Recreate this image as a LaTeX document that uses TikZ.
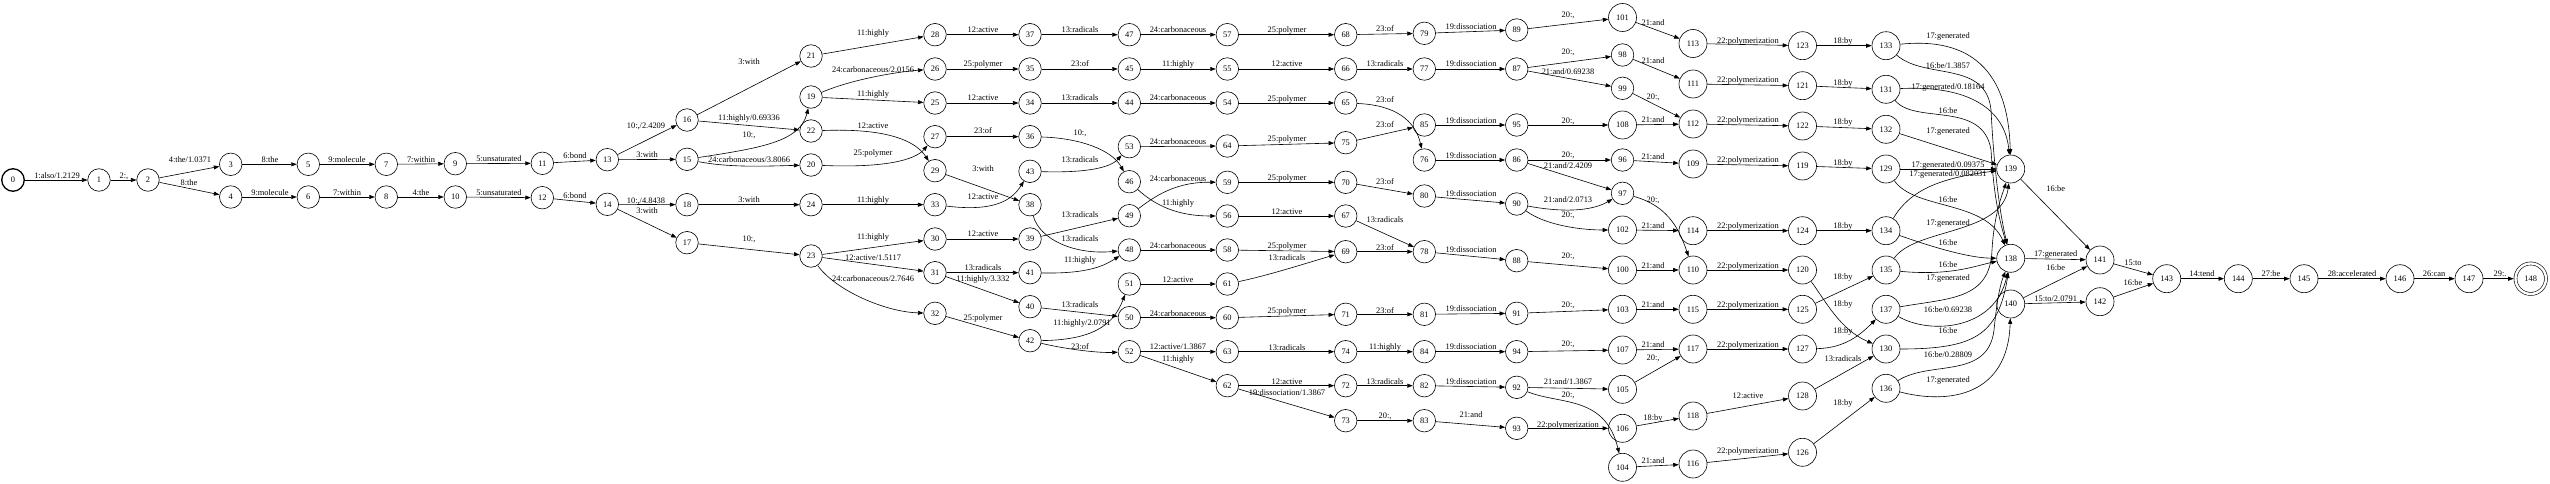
\documentclass[tikz,border=0pt]{standalone}
\usepackage{fontspec}
\setmainfont{Liberation Serif}
\usetikzlibrary{arrows.meta}
\newcommand\fs{\fontsize{8.4}{10}\selectfont}
\newcommand\myedge[4]{\draw[e] (#1) -- (#2) node[lab] at (#3) {#4};}
\newcommand\mycurve[5]{\draw[e] (#1) .. controls #3 .. (#2) node[lab] at (#4) {#5};}
\tikzset{
  st/.style={circle, draw, line width=0.6pt, inner sep=0pt, minimum size=22.5pt, font=\fs},
  sw/.style={st, minimum size=28pt},
  lab/.style={font=\fs, inner sep=0pt},
  e/.style={draw, line width=0.6pt, -{Triangle[length=5.5pt,width=4pt]}},
}
\begin{document}
\begin{tikzpicture}[x=1pt,y=-1pt]
\useasboundingbox (0,0) rectangle (2550,484);
\node[st, line width=1.3pt] (n0) at (13,180) {0};
\foreach \n/\x/\y in {1/99/180, 2/148/180, 3/230.7/164.3, 4/230.7/197, 5/308.3/164.3, 6/308.3/197,
 7/386.3/164.3, 8/386.3/197, 9/455.3/163.7, 10/455.3/197, 11/542.3/163.3, 12/542.3/197.7,
 13/607.3/159.7, 14/607.3/204.3, 15/687/159.3, 16/687/120, 17/687/242.7, 18/687/204.7,
 19/811/97, 20/811/165, 21/811/56, 22/811/131, 23/811/256, 24/811/204.7,
 25/935/103, 26/935/69, 27/935/136.7, 28/935/34.7, 29/935/170.7, 30/935/239, 31/935/272.7, 32/935/313.3, 33/935/204.7,
 34/1030/103, 35/1030/69, 36/1030/136.7, 37/1030/34.7, 38/1030/204.7, 39/1030/239, 40/1030/306.7, 41/1030/272.7, 42/1030/340.7, 43/1030/171.3,
 44/1129.3/103, 45/1129.3/69, 46/1129.3/181.7, 47/1129.3/34.7, 48/1129.3/250, 49/1129.3/215.7, 50/1129.3/317.7, 51/1129.3/284, 52/1129.3/351.7, 53/1129.3/146.7,
 54/1227.3/103, 55/1227.3/69, 56/1227.3/216, 57/1227.3/34.7, 58/1227.3/250, 59/1227.3/182.3, 60/1227.3/317.7, 61/1227.3/284, 62/1227.3/385.7, 63/1227.3/351.7, 64/1227.3/146,
 65/1345.7/103, 66/1345.7/69, 67/1345.7/216, 68/1345.7/34.7, 69/1345.7/251.7, 70/1345.7/182.3, 71/1345.7/314.3, 72/1345.7/385.7, 73/1345.7/420.7, 74/1345.7/351.7, 75/1345.7/142.7,
 76/1424.3/160, 77/1424.3/69, 78/1424.3/251.7, 79/1424.3/33.3, 80/1424.3/196, 81/1424.3/314.3, 82/1424.3/385.7, 83/1424.3/420.7, 84/1424.3/351.7, 85/1424.3/125,
 86/1516.7/160, 87/1516.7/69, 88/1516.7/260.7, 89/1516.7/30, 90/1516.7/204, 91/1516.7/313.3, 92/1516.7/387.3, 93/1516.7/428.3, 94/1516.7/351.7, 95/1516.7/125,
 96/1622.5/160, 97/1622.5/193.3, 98/1622.5/55, 99/1622.5/88.3}
 \node[st] (n\n) at (\x,\y) {\n};
\foreach \n/\x/\y in {100/1622.5/270, 101/1622.5/17.5, 102/1622.5/230, 103/1622.5/309.3, 104/1622.5/467.3, 105/1622.5/389.3, 106/1622.5/428.3, 107/1622.5/350, 108/1622.5/125,
 109/1693/164, 110/1693/270, 111/1693/84, 112/1693/124, 113/1693/43.5, 114/1693/230.7, 115/1693/309.3, 116/1693/464, 117/1693/349, 118/1693/416,
 119/1802.5/166, 120/1802.5/270, 121/1802.5/85.7, 122/1802.5/126, 123/1802.5/45.7, 124/1802.5/230.7, 125/1802.5/309.3, 126/1802.5/452.3, 127/1802.5/349, 128/1802.5/396,
 129/1886/169, 130/1886/349, 131/1886/89.3, 132/1886/129.3, 133/1886/45.7, 134/1886/230.7, 135/1886/270, 136/1886/388.3, 137/1886/309.3,
 138/2010.7/258.3, 139/2010.7/169, 140/2010.7/304, 141/2100/260, 142/2100/301.7,
 143/2166.7/278.7, 144/2238.3/278.7, 145/2304/278.7, 146/2400/278.7, 147/2469/278.7}
 \node[sw] (n\n) at (\x,\y) {\n};
\node[st, minimum size=30.5pt, double, double distance=2.4pt, outer sep=1.8pt] (n148) at (2530.7,278.7) {148};
% --- edges ---
\myedge{n0}{n1}{57,176}{1:also/1.2129}
\myedge{n1}{n2}{124,176}{2:,}
\myedge{n2}{n3}{190,160}{4:the/1.0371}
\myedge{n2}{n4}{189,183}{8:the}
\myedge{n3}{n5}{270,160}{8:the}
\myedge{n5}{n7}{347,160}{9:molecule}
\myedge{n7}{n9}{421,160}{7:within}
\myedge{n4}{n6}{270,193}{9:molecule}
\myedge{n6}{n8}{347,193}{7:within}
\myedge{n8}{n10}{421,193}{4:the}
\myedge{n9}{n11}{499,159}{5:unsaturated}
\myedge{n10}{n12}{499,193}{5:unsaturated}
\myedge{n11}{n13}{575,156}{6:bond}
\myedge{n12}{n14}{575,196}{6:bond}
\myedge{n13}{n16}{646,126}{10:,/2.4209}
\myedge{n13}{n15}{647,155}{3:with}
\myedge{n14}{n18}{646,201}{10:,/4.8438}
\myedge{n14}{n17}{647,211}{3:with}
\myedge{n16}{n21}{749,62}{3:with}
\myedge{n16}{n22}{749,118}{11:highly/0.69336}
\mycurve{n15}{n19}{(760,148) and (800,142)}{749,135}{10:,}
\mycurve{n15}{n20}{(730,168) and (770,166)}{749,160}{24:carbonaceous/3.8066}
\myedge{n18}{n24}{749,200}{3:with}
\myedge{n17}{n23}{749,239}{10:,}
\myedge{n21}{n28}{873,33}{11:highly}
\mycurve{n19}{n26}{(850,80) and (895,72)}{873,70}{24:carbonaceous/2.0156}
\myedge{n19}{n25}{873,94}{11:highly}
\mycurve{n22}{n29}{(885,128) and (915,140)}{873,126}{12:active}
\mycurve{n20}{n27}{(885,168) and (915,160)}{873,153}{25:polymer}
\myedge{n24}{n33}{873,200}{11:highly}
\myedge{n23}{n30}{873,237}{11:highly}
\myedge{n23}{n31}{873,258}{12:active/1.5117}
\mycurve{n23}{n32}{(835,290) and (885,312)}{873,279}{24:carbonaceous/2.7646}
\myedge{n28}{n37}{983,30}{12:active}
\myedge{n26}{n35}{983,64}{25:polymer}
\myedge{n25}{n34}{983,98}{12:active}
\myedge{n27}{n36}{983,131}{23:of}
\myedge{n29}{n38}{983,169}{3:with}
\mycurve{n33}{n43}{(995,212) and (1012,200)}{983,197}{12:active}
\myedge{n30}{n39}{983,234}{12:active}
\myedge{n31}{n41}{983,268}{13:radicals}
\myedge{n31}{n40}{983,279}{11:highly/3.332}
\myedge{n32}{n42}{983,318}{25:polymer}
\myedge{n37}{n47}{1080,30}{13:radicals}
\myedge{n35}{n45}{1080,64}{23:of}
\myedge{n34}{n44}{1080,98}{13:radicals}
\mycurve{n36}{n46}{(1080,138) and (1112,150)}{1080,133}{10:,}
\mycurve{n43}{n53}{(1085,173) and (1110,168)}{1080,160}{13:radicals}
\myedge{n39}{n49}{1080,215}{13:radicals}
\mycurve{n38}{n48}{(1040,240) and (1075,255)}{1080,239}{13:radicals}
\mycurve{n41}{n48}{(1090,274) and (1105,265)}{1080,260}{11:highly}
\myedge{n40}{n50}{1080,305}{13:radicals}
\mycurve{n42}{n51}{(1100,340) and (1115,320)}{1082,323}{11:highly/2.0791}
\mycurve{n42}{n52}{(1070,350) and (1100,353)}{1080,347}{23:of}
\myedge{n47}{n57}{1178,30}{24:carbonaceous}
\myedge{n45}{n55}{1178,64}{11:highly}
\myedge{n44}{n54}{1178,98}{24:carbonaceous}
\myedge{n53}{n64}{1178,142}{24:carbonaceous}
\mycurve{n49}{n59}{(1160,192) and (1180,182)}{1178,179}{24:carbonaceous}
\mycurve{n46}{n56}{(1160,210) and (1185,216)}{1178,203}{11:highly}
\myedge{n48}{n58}{1178,246}{24:carbonaceous}
\myedge{n51}{n61}{1178,280}{12:active}
\myedge{n50}{n60}{1178,314}{24:carbonaceous}
\myedge{n52}{n63}{1178,347}{12:active/1.3867}
\myedge{n52}{n62}{1178,359}{11:highly}
\myedge{n57}{n68}{1287,30}{25:polymer}
\myedge{n55}{n66}{1287,64}{12:active}
\myedge{n54}{n65}{1287,99}{25:polymer}
\myedge{n64}{n75}{1287,139}{25:polymer}
\myedge{n59}{n70}{1287,178}{25:polymer}
\myedge{n56}{n67}{1287,212}{12:active}
\myedge{n58}{n69}{1287,246}{25:polymer}
\mycurve{n61}{n69}{(1270,275) and (1310,262)}{1287,258}{13:radicals}
\myedge{n60}{n71}{1287,311}{25:polymer}
\myedge{n63}{n74}{1287,348}{13:radicals}
\myedge{n62}{n72}{1287,382}{12:active}
\myedge{n62}{n73}{1287,393}{19:dissociation/1.3867}
\myedge{n68}{n79}{1385,29}{23:of}
\myedge{n66}{n77}{1385,64}{13:radicals}
\mycurve{n65}{n76}{(1395,105) and (1415,120)}{1385,100}{23:of}
\myedge{n75}{n85}{1385,125}{23:of}
\myedge{n70}{n80}{1385,182}{23:of}
\myedge{n67}{n78}{1385,220}{13:radicals}
\myedge{n69}{n78}{1385,248}{23:of}
\myedge{n71}{n81}{1385,311}{23:of}
\myedge{n74}{n84}{1385,347}{11:highly}
\myedge{n72}{n82}{1385,382}{13:radicals}
\myedge{n73}{n83}{1385,416}{20:,}
\myedge{n79}{n89}{1471,27}{19:dissociation}
\myedge{n77}{n87}{1471,64}{19:dissociation}
\myedge{n85}{n95}{1471,121}{19:dissociation}
\myedge{n76}{n86}{1471,156}{19:dissociation}
\myedge{n80}{n90}{1471,194}{19:dissociation}
\myedge{n78}{n88}{1471,250}{19:dissociation}
\myedge{n81}{n91}{1471,309}{19:dissociation}
\myedge{n84}{n94}{1471,347}{19:dissociation}
\myedge{n82}{n92}{1471,382}{19:dissociation}
\myedge{n83}{n93}{1471,415}{21:and}
\myedge{n89}{n101}{1568,15}{20:,}
\myedge{n87}{n98}{1568,52}{20:,}
\myedge{n87}{n99}{1568,72}{21:and/0.69238}
\myedge{n95}{n108}{1568,121}{20:,}
\myedge{n86}{n96}{1568,155}{20:,}
\myedge{n86}{n97}{1568,166}{21:and/2.4209}
\mycurve{n90}{n97}{(1560,212) and (1590,212)}{1568,200}{21:and/2.0713}
\mycurve{n90}{n102}{(1545,225) and (1580,230)}{1568,215}{20:,}
\myedge{n88}{n100}{1568,256}{20:,}
\myedge{n91}{n103}{1568,305}{20:,}
\myedge{n94}{n107}{1568,344}{20:,}
\myedge{n92}{n105}{1568,382}{21:and/1.3867}
\mycurve{n92}{n104}{(1560,405) and (1605,395)}{1568,395}{20:,}
\myedge{n93}{n106}{1568,425}{22:polymerization}
\myedge{n101}{n113}{1653,23}{21:and}
\myedge{n98}{n111}{1653,61}{21:and}
\myedge{n99}{n112}{1653,97}{20:,}
\myedge{n108}{n112}{1653,120}{21:and}
\myedge{n96}{n109}{1653,157}{21:and}
\mycurve{n97}{n110}{(1665,205) and (1678,225)}{1653,200}{20:,}
\myedge{n102}{n114}{1653,226}{21:and}
\myedge{n100}{n110}{1653,266}{21:and}
\myedge{n103}{n115}{1653,305}{21:and}
\myedge{n107}{n117}{1653,345}{21:and}
\myedge{n105}{n117}{1653,358}{20:,}
\myedge{n106}{n118}{1653,418}{18:by}
\myedge{n104}{n116}{1653,461}{21:and}
\myedge{n113}{n123}{1748,41}{22:polymerization}
\myedge{n111}{n121}{1748,80}{22:polymerization}
\myedge{n112}{n122}{1748,120}{22:polymerization}
\myedge{n109}{n119}{1748,160}{22:polymerization}
\myedge{n114}{n124}{1748,226}{22:polymerization}
\myedge{n110}{n120}{1748,266}{22:polymerization}
\myedge{n115}{n125}{1748,305}{22:polymerization}
\myedge{n117}{n127}{1748,345}{22:polymerization}
\myedge{n118}{n128}{1748,396}{12:active}
\myedge{n116}{n126}{1748,451}{22:polymerization}
\myedge{n123}{n133}{1843,41}{18:by}
\myedge{n121}{n131}{1843,83}{18:by}
\myedge{n122}{n132}{1843,122}{18:by}
\myedge{n119}{n129}{1843,163}{18:by}
\myedge{n124}{n134}{1843,226}{18:by}
\myedge{n125}{n135}{1843,277}{18:by}
\mycurve{n120}{n130}{(1825,300) and (1840,330)}{1843,304}{18:by}
\mycurve{n127}{n137}{(1845,348) and (1860,335)}{1843,331}{18:by}
\myedge{n128}{n130}{1843,359}{13:radicals}
\myedge{n126}{n136}{1843,403}{18:by}
% --- into 138 / 139 / 140 ---
\mycurve{n133}{n139}{(1960,38) and (2008,60)}{1948,36}{17:generated}
\draw[e] (n133) .. controls (1925,80) and (1986,60) .. (1991,110) .. controls (1994,170) and (2000,215) .. (n138) node[lab] at (1948,66) {16:be/1.3857};
\mycurve{n131}{n139}{(1970,85) and (2005,110)}{1948,87}{17:generated/0.18164}
\draw[e] (n131) .. controls (1915,125) and (1983,100) .. (1991,150) .. controls (1994,200) and (2000,222) .. (n138) node[lab] at (1948,111) {16:be};
\myedge{n132}{n139}{1948,131}{17:generated}
\myedge{n129}{n139}{1948,165}{17:generated/0.09375}
\mycurve{n134}{n139}{(1910,190) and (1940,178)}{1948,174}{17:generated/0.082031}
\mycurve{n129}{n138}{(1915,210) and (1985,200)}{1948,200}{16:be}
\mycurve{n135}{n139}{(1915,228) and (2002,235)}{1948,223}{17:generated}
\mycurve{n134}{n138}{(1935,248) and (1970,258)}{1948,243}{16:be}
\mycurve{n135}{n138}{(1950,276) and (1975,266)}{1948,265}{16:be}
\draw[e] (n137) .. controls (1950,298) and (1990,300) .. (1992,250) .. controls (1994,215) and (2002,195) .. (n139) node[lab] at (1948,278) {17:generated};
\mycurve{n137}{n138}{(1930,335) and (1995,330)}{1948,310}{16:be/0.69238}
\mycurve{n130}{n138}{(1975,349) and (1998,335)}{1948,331}{16:be}
\draw[e] (n136) .. controls (1930,360) and (1988,380) .. (1994,330) .. controls (1997,300) and (2000,285) .. (n138) node[lab] at (1948,355) {16:be/0.28809};
\mycurve{n136}{n140}{(1950,405) and (2008,395)}{1948,380}{17:generated}
\myedge{n139}{n141}{2055.7,189}{16:be}
\myedge{n138}{n141}{2055.7,254}{17:generated}
\myedge{n140}{n141}{2055.7,268}{16:be}
\myedge{n140}{n142}{2055.7,299}{15:to/2.0791}
\myedge{n141}{n143}{2133,263}{15:to}
\myedge{n142}{n143}{2133,283}{16:be}
\myedge{n143}{n144}{2202,274}{14:tend}
\myedge{n144}{n145}{2271,274}{27:be}
\myedge{n145}{n146}{2352,274}{28:accelerated}
\myedge{n146}{n147}{2434,274}{26:can}
\myedge{n147}{n148}{2500,274}{29:.}
\end{tikzpicture}
\end{document}
